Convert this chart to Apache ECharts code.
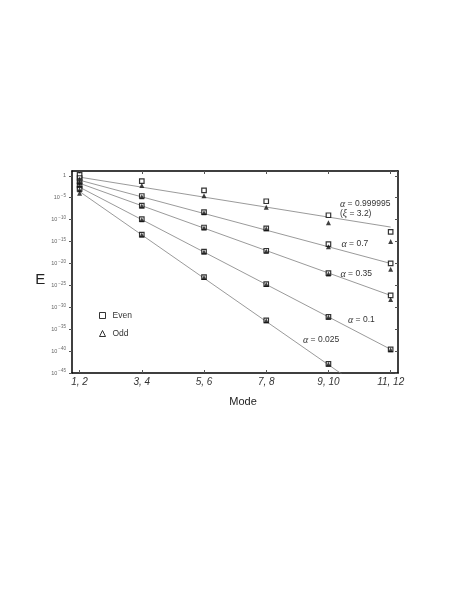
<!DOCTYPE html>
<html>
<head>
<meta charset="utf-8">
<script src="https://cdn.jsdelivr.net/npm/echarts@6/dist/echarts.min.js"></script>
<style>html,body{margin:0;padding:0;background:#fff}#main{width:471px;height:609px}</style>
</head>
<body>
<div id="main"></div>
<script>
// mode pairs along the x axis
const modeLabels = ['1, 2', '3, 4', '5, 6', '7, 8', '9, 10', '11, 12'];
const alphas = ['0.999995', '0.7', '0.35', '0.1', '0.025'];
// log10(E), one row per alpha
const evenExp = [
  [0.2, -1.2, -3.3, -5.8, -9.0, -12.8],
  [-0.5, -4.6, -8.3, -12.0, -15.6, -20.0],
  [-1.2, -6.8, -11.8, -17.1, -22.2, -27.3],
  [-2.2, -9.9, -17.3, -24.7, -32.2, -39.6],
  [-3.0, -13.4, -23.1, -33.0, -42.9, null]
];
const oddExp = [
  [-0.8, -2.2, -4.55, -7.2, -10.7, -15.0],
  [-1.5, -4.8, -8.4, -12.1, -16.2, -21.3],
  [-2.2, -6.9, -11.9, -17.2, -22.4, -28.2],
  [-3.2, -10.0, -17.4, -24.8, -32.3, -39.7],
  [-4.0, -13.5, -23.2, -33.1, -43.0, null]
];
// straight fit lines: log10(E) at "1, 2" and at "11, 12"
const fitStart = [-0.3, -1.0, -1.7, -2.6, -3.6];
const fitEnd = [-11.7, -20.0, -27.3, -39.6, -53.0];

const chart = echarts.init(document.getElementById('main'));

// y is plotted as log10(E), labelled as powers of ten
function toPoints(rows) {
  const pts = [];
  rows.forEach(row => row.forEach((e, i) => {
    if (e !== null) pts.push([i + 1, e]);
  }));
  return pts;
}

const fitSeries = alphas.map((a, k) => ({
  name: 'α = ' + a,
  type: 'line',
  data: [[1, fitStart[k]], [modeLabels.length, fitEnd[k]]],
  symbol: 'none',
  silent: true,
  lineStyle: { color: '#808080', width: 0.8 },
  z: 1
}));

const sans = 'Liberation Sans, Arial, sans-serif';
const alphaRich = {
  a: { fontFamily: 'Liberation Serif, serif', fontStyle: 'italic', fontSize: 10, fill: '#333' },
  t: { fontFamily: sans, fontSize: 8.5, fill: '#333' }
};
function note(text, x, y) {
  return { type: 'text', x: x, y: y, style: { text: text, rich: alphaRich, verticalAlign: 'middle' } };
}

const ticksX = [1, 2, 3, 4, 5, 6];
const xCommon = { type: 'value', min: 0.878, max: 6.118 };
const yCommon = { type: 'value', min: -45, max: 1.1, interval: 5 };

chart.setOption({
  animation: false,
  grid: { left: 72, right: 73, top: 171, bottom: 236 },
  legend: {
    orient: 'vertical', left: 99, top: 311, padding: 0,
    itemWidth: 6, itemHeight: 6, itemGap: 9,
    textStyle: { fontFamily: sans, fontSize: 8.5, color: '#333', padding: [0, 0, 0, 2] },
    data: [
      { name: 'Even', icon: 'rect', itemStyle: { color: '#fff', borderColor: '#000', borderWidth: 1 } },
      { name: 'Odd', icon: 'triangle', itemStyle: { color: '#fff', borderColor: '#000', borderWidth: 1 } }
    ]
  },
  xAxis: [
    Object.assign({}, xCommon, {
      position: 'bottom',
      name: 'Mode', nameLocation: 'middle', nameGap: 23,
      nameTextStyle: { fontFamily: sans, fontSize: 11, color: '#222', padding: [0, 0, 0, 16] },
      axisLine: { onZero: false, lineStyle: { color: '#000', width: 1.5 } },
      axisTick: { inside: true, length: 3, customValues: ticksX, lineStyle: { color: '#555' } },
      axisLabel: {
        customValues: ticksX,
        formatter: v => modeLabels[Math.round(v) - 1],
        fontFamily: sans, fontSize: 10, fontStyle: 'italic', color: '#333', margin: 4
      },
      splitLine: { show: false }
    }),
    Object.assign({}, xCommon, {
      position: 'top',
      axisLine: { onZero: false, lineStyle: { color: '#000', width: 1.5 } },
      axisTick: { inside: true, length: 3, customValues: ticksX, lineStyle: { color: '#555' } },
      axisLabel: { show: false },
      splitLine: { show: false }
    })
  ],
  yAxis: [
    Object.assign({}, yCommon, {
      position: 'left',
      name: 'E', nameLocation: 'middle', nameRotate: 0, nameGap: 22,
      nameTextStyle: { fontFamily: sans, fontSize: 15, color: '#222', verticalAlign: 'top' },
      axisLine: { onZero: false, lineStyle: { color: '#000', width: 1.5 } },
      axisTick: { inside: false, length: 3, lineStyle: { color: '#555' } },
      axisLabel: {
        showMaxLabel: false,
        margin: 6,
        formatter: v => {
          const e = Math.round(v);
          return e === 0 ? '{b|1}' : '{b|10}{s|\u2212' + Math.abs(e) + '}';
        },
        rich: {
          b: { fontFamily: sans, fontSize: 5.5, color: '#666' },
          s: { fontFamily: sans, fontSize: 4.5, color: '#666', padding: [0, 0, 4, 1] }
        }
      },
      splitLine: { show: false }
    }),
    Object.assign({}, yCommon, {
      position: 'right',
      axisLine: { onZero: false, lineStyle: { color: '#000', width: 1.5 } },
      axisTick: { inside: true, length: 3, lineStyle: { color: '#555' } },
      axisLabel: { show: false },
      splitLine: { show: false }
    })
  ],
  series: fitSeries.concat([
    {
      name: 'Even', type: 'scatter', data: toPoints(evenExp),
      symbol: 'rect', symbolSize: 4.5,
      itemStyle: { color: '#fff', borderColor: '#000', borderWidth: 1.2 },
      z: 3
    },
    {
      name: 'Odd', type: 'scatter', data: toPoints(oddExp),
      symbol: 'triangle', symbolSize: 5,
      itemStyle: { color: '#111' },
      z: 4
    }
  ]),
  graphic: [
    note('{a|α}{t| = 0.999995}', 340, 204),
    note('{t|(}{a|ξ}{t| = 3.2)}', 340, 213.5),
    note('{a|α}{t| = 0.7}', 341.5, 244),
    note('{a|α}{t| = 0.35}', 340.5, 274),
    note('{a|α}{t| = 0.1}', 348, 320),
    note('{a|α}{t| = 0.025}', 303, 340)
  ]
});
</script>
</body>
</html>
